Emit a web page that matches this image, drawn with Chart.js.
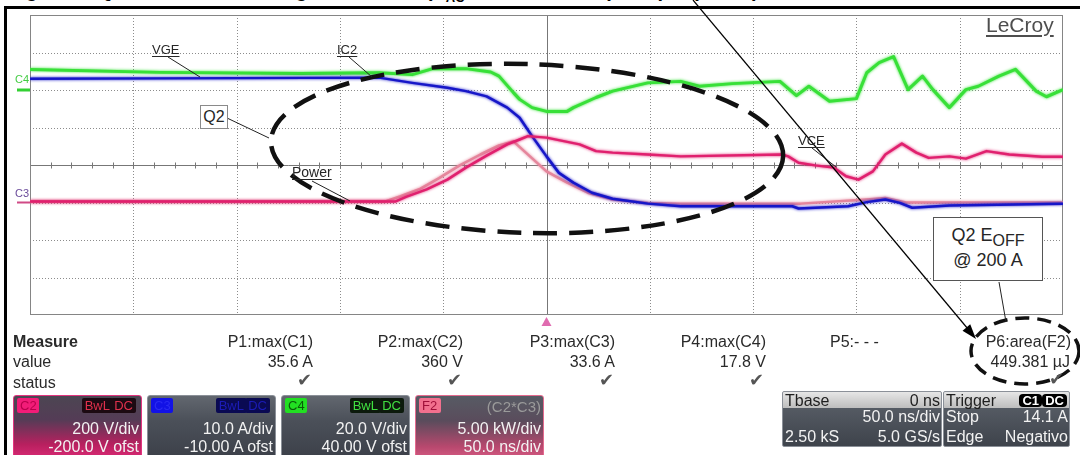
<!DOCTYPE html>
<html>
<head>
<meta charset="utf-8">
<script src="https://cdn.jsdelivr.net/npm/chart.js@4.4.0/dist/chart.umd.min.js"></script>
<style>
  body { margin:0; background:#fff; font-family:"Liberation Sans", Arial, Helvetica, sans-serif; }
  #wrap { position:relative; width:1080px; height:455px; overflow:hidden; background:#fff; }
  #scope { position:absolute; left:0; top:0; z-index:1; }
  .ov { position:absolute; z-index:2; line-height:1; white-space:nowrap; color:#262626; }
  .lbl { font-size:13px; text-decoration:underline; text-underline-offset:2px; }
  .m { font-size:16px; color:#2a2a2a; }
  .ck { font-size:18px; color:#555; }
  .frame-l { position:absolute; left:4px; top:6px; width:3px; height:460px; background:#000; z-index:3; }
  .frame-t { position:absolute; left:4px; top:6px; width:1080px; height:3px; background:#000; z-index:3; }
  .title { position:absolute; left:8px; top:-20px; height:20px; font-size:20px; font-weight:bold; line-height:20px; white-space:nowrap; color:#000; }
  .title .sub { position:relative; top:5px; font-size:13px; }

  /* channel descriptor boxes */
  .chb { position:absolute; top:395px; width:127px; height:62px; border:1px solid #8b9098; border-radius:3px;
         color:#f2f2f2; z-index:2; overflow:hidden; font-size:16px; line-height:1; }
  .tag { position:absolute; top:2px; height:15px; line-height:15px; font-size:13px; padding:0 3px; border-radius:2px; }
  .r2, .r3 { position:absolute; right:2px; white-space:nowrap; }
  .r2 { top:25px; } .r3 { top:43px; }
  .tb { position:absolute; top:391px; height:54px; border:1px solid #8b9098; border-radius:2px; z-index:2;
        overflow:hidden; font-size:16px; line-height:1; color:#f2f2f2;
        background:linear-gradient(#5e646d, #3e434b); }
  .tb .hd { position:absolute; left:0; right:0; top:0; height:16px; background:linear-gradient(#e6e6e6, #bdbdbd); color:#1e1e1e; }
  .tb span { position:absolute; white-space:nowrap; }
  .tb span.bk { top:2px; height:13px; line-height:13px; font-size:13px; font-weight:bold; padding:0 3px; background:#000; color:#fff; border-radius:4px; }
</style>
</head>
<body>
<div id="wrap">
  <canvas id="scope" width="1080" height="455"></canvas>

  <div class="title">Figure 9. Q2 Turn-Off Switching Waveforms (V<span class="sub">AC</span> = 240 V, 200 A peak per phase)</div>
  <div class="frame-t"></div>
  <div class="frame-l"></div>

  <!-- channel markers on the left edge -->
  <div class="ov" style="left:15px;top:73.5px;font-size:11px;color:#44cc44">C4</div>
  <div class="ov" style="left:15px;top:187.5px;font-size:11px;color:#6a4a9a">C3</div>

  <!-- trace labels -->
  <div class="ov lbl" style="left:152px;top:42.5px">VGE</div>
  <div class="ov lbl" style="left:337px;top:42.5px">IC2</div>
  <div class="ov lbl" style="left:292px;top:165px;font-size:14px">Power</div>
  <div class="ov lbl" style="left:798px;top:134px">VCE</div>
  <div class="ov" style="left:200px;top:105px;width:26px;height:22px;border:1px solid #8a8a8a;background:#fff;
       font-size:16px;line-height:22px;text-align:center">Q2</div>
  <div class="ov" style="left:986px;top:14px;font-size:21px;color:#4e4e4e;text-decoration:underline;text-underline-offset:3px">LeCroy</div>
  <div class="ov" style="left:933px;top:217px;width:108px;height:62px;border:1.5px solid #555;background:#fff;font-size:18px">
    <div style="position:absolute;left:0;right:0;top:8px;text-align:center">Q2 E<span style="position:relative;top:5px;font-size:16px">OFF</span></div>
    <div style="position:absolute;left:0;right:0;top:33px;text-align:center">@ 200 A</div>
  </div>

  <!-- measure table -->
  <div class="ov m" style="left:13px;top:333.5px;font-weight:bold">Measure</div>
  <div class="ov m" style="left:13px;top:354px">value</div>
  <div class="ov m" style="left:13px;top:374.5px">status</div>

  <div class="ov m" style="right:767px;top:333.5px">P1:max(C1)</div>
  <div class="ov m" style="right:767px;top:354px">35.6 A</div>
  <div class="ov ck" style="right:768px;top:371px">&#10004;</div>

  <div class="ov m" style="right:617px;top:333.5px">P2:max(C2)</div>
  <div class="ov m" style="right:617px;top:354px">360 V</div>
  <div class="ov ck" style="right:618px;top:371px">&#10004;</div>

  <div class="ov m" style="right:465px;top:333.5px">P3:max(C3)</div>
  <div class="ov m" style="right:465px;top:354px">33.6 A</div>
  <div class="ov ck" style="right:466px;top:371px">&#10004;</div>

  <div class="ov m" style="right:314px;top:333.5px">P4:max(C4)</div>
  <div class="ov m" style="right:314px;top:354px">17.8 V</div>
  <div class="ov ck" style="right:316px;top:371px">&#10004;</div>

  <div class="ov m" style="left:830px;top:333.5px">P5:- - -</div>

  <div class="ov m" style="right:9px;top:333.5px">P6:area(F2)</div>
  <div class="ov m" style="right:10px;top:354px">449.381 µJ</div>
  <div class="ov ck" style="right:16px;top:370px">&#10004;</div>

  <!-- channel boxes -->
  <div class="chb" style="left:13px;border-color:#e2357f;background:linear-gradient(#4c4652 0%, #543c56 38%, #b8205f 78%, #d82a74 100%)">
    <span class="tag" style="left:3px;width:16px;background:#f21c78;color:#b8004c">C2</span>
    <span class="tag" style="right:28px;background:#1c0a12;color:#e0304c">BwL</span>
    <span class="tag" style="right:5px;background:#1c0a12;color:#e0304c">DC</span>
    <div class="r2">200 V/div</div>
    <div class="r3">-200.0 V ofst</div>
  </div>
  <div class="chb" style="left:147px;background:linear-gradient(#62676f 0%, #4b5059 40%, #3c4049 100%)">
    <span class="tag" style="left:3px;width:16px;background:#1212e6;color:#2a2af0">C3</span>
    <span class="tag" style="right:28px;background:#0a0a52;color:#1c1cb8">BwL</span>
    <span class="tag" style="right:5px;background:#0a0a52;color:#1c1cb8">DC</span>
    <div class="r2">10.0 A/div</div>
    <div class="r3">-10.00 A ofst</div>
  </div>
  <div class="chb" style="left:281px;background:linear-gradient(#62676f 0%, #4b5059 40%, #3c4049 100%)">
    <span class="tag" style="left:3px;width:16px;background:#22e022;color:#0a5a0a">C4</span>
    <span class="tag" style="right:28px;background:#0c1a0c;color:#40e040">BwL</span>
    <span class="tag" style="right:5px;background:#0c1a0c;color:#40e040">DC</span>
    <div class="r2">20.0 V/div</div>
    <div class="r3">40.00 V ofst</div>
  </div>
  <div class="chb" style="left:415px;border-color:#e46a8e;background:linear-gradient(#575b64 0%, #5a4c5c 40%, #b8486e 82%, #d45a82 100%)">
    <span class="tag" style="left:3px;width:16px;background:#f2708e;color:#a0103a">F2</span>
    <span style="position:absolute;right:2px;top:3px;font-size:15px;color:#9a9a9a">(C2*C3)</span>
    <div class="r2">5.00 kW/div</div>
    <div class="r3">50.0 ns/div</div>
  </div>

  <div class="tb" style="left:782px;width:158px">
    <div class="hd"></div>
    <span style="left:2px;top:1px;color:#1e1e1e">Tbase</span>
    <span style="right:1px;top:1px;color:#1e1e1e">0 ns</span>
    <span style="right:1px;top:17px">50.0 ns/div</span>
    <span style="left:2px;top:37px">2.50 kS</span>
    <span style="right:1px;top:37px">5.0 GS/s</span>
  </div>
  <div class="tb" style="left:943px;width:125px">
    <div class="hd"></div>
    <span style="left:2px;top:1px;color:#1e1e1e">Trigger</span>
    <span class="bk" style="right:27px">C1</span>
    <span class="bk" style="right:2px">DC</span>
    <span style="left:2px;top:17px">Stop</span>
    <span style="right:1px;top:17px">14.1 A</span>
    <span style="left:2px;top:37px">Edge</span>
    <span style="right:1px;top:37px">Negativo</span>
  </div>
</div>

<script>
/* ---- scope settings: 50 ns/div, 10 x 8 divisions, values in divisions ---- */
const xTicks = [-250, -200, -150, -100, -50, 0, 50, 100, 150, 200, 250];   // ns
const yTicks = [-4, -3, -2, -1, 0, 1, 2, 3, 4];                          // div
const minorNs = 10;                                                       // centre-axis tick spacing

/* ---- traces (time in ns, level in divisions) ---- */
const vgeT = [-250,-187,-119,-81,-65,-55,-39,-27,-23,-16,-13,-7,0,10,13,24,32,49,65,74,90,113,121,127,137,150,155,161,168,175,182,187,195,203,209,219,227,237,242,250];
const vgeV = [2.55,2.47,2.44,2.46,2.41,2.57,2.57,2.48,2.37,1.93,1.75,1.53,1.43,1.43,1.53,1.80,1.97,2.19,2.23,2.10,2.17,2.23,1.85,2.10,1.70,1.77,2.46,2.73,2.89,2.01,2.37,2.01,1.53,2.01,2.10,2.37,2.55,1.97,1.82,2.01];

const ic2T = [-250,-187,-81,-65,-48,-39,-29,-19,-13,-7,0,6,13,22,32,49,65,119,122,146,155,164,171,177,195,250];
const ic2V = [2.30,2.31,2.33,2.19,2.06,1.97,1.83,1.53,1.26,0.77,0.23,-0.21,-0.47,-0.74,-0.90,-1.03,-1.10,-1.10,-1.16,-1.10,-0.99,-0.92,-1.01,-1.14,-1.08,-1.03];

const vceT = [-250,-73,-68,-58,-48,-39,-29,-19,-13,-9,0,16,24,32,49,65,114,117,122,130,139,145,151,158,164,172,179,185,195,203,213,224,240,250];
const vceV = [-0.97,-0.97,-0.85,-0.65,-0.39,-0.07,0.25,0.55,0.68,0.77,0.73,0.55,0.37,0.33,0.28,0.23,0.28,0.23,0.06,-0.01,-0.07,-0.30,-0.39,-0.17,0.28,0.57,0.33,0.19,0.23,0.17,0.37,0.28,0.22,0.22];

const powT = [-250,-78,-71,-61,-52,-42,-32,-23,-16,-10,0,10,20,32,49,65,123,155,164,174,250];
const powV = [-0.97,-0.97,-0.84,-0.63,-0.35,-0.01,0.28,0.52,0.63,0.33,-0.17,-0.47,-0.74,-0.92,-1.01,-1.03,-1.03,-0.92,-0.88,-1.00,-1.00];

function pts(t, v) { return t.map((x, i) => ({ x, y: v[i] })); }

function seg(ctx, x1, y1, x2, y2) { ctx.beginPath(); ctx.moveTo(x1, y1); ctx.lineTo(x2, y2); ctx.stroke(); }

/* graticule: dotted grid, solid centre cross with ticks, grey frame */
const graticule = {
  id: 'graticule',
  beforeDatasetsDraw(chart) {
    const { ctx, chartArea: a, scales: { x, y } } = chart;
    ctx.save();
    ctx.lineWidth = 1;
    ctx.strokeStyle = '#8c8c8c';
    ctx.setLineDash([1, 2]);
    xTicks.slice(1, -1).filter(t => t !== 0).forEach(t => {
      const px = Math.round(x.getPixelForValue(t)) + 0.5;
      seg(ctx, px, a.top, px, a.bottom);
    });
    yTicks.slice(1, -1).filter(v => v !== 0).forEach(v => {
      const py = Math.round(y.getPixelForValue(v)) + 0.5;
      seg(ctx, a.left, py, a.right, py);
    });
    ctx.setLineDash([]);
    ctx.strokeStyle = '#777';
    const cx = Math.round(x.getPixelForValue(0)) + 0.5;
    const cy = Math.round(y.getPixelForValue(0)) + 0.5;
    seg(ctx, a.left, cy, a.right, cy);
    seg(ctx, cx, a.top, cx, a.bottom);
    for (let t = xTicks[0] + minorNs; t < xTicks[xTicks.length - 1]; t += minorNs) {
      const px = Math.round(x.getPixelForValue(t)) + 0.5;
      seg(ctx, px, cy - 3, px, cy + 3);
    }
    ctx.strokeStyle = '#858585';
    ctx.strokeRect(a.left + 0.5, a.top + 0.5, a.right - a.left - 1, a.bottom - a.top - 1);
    ctx.restore();
  }
};

/* soft halo round each trace, like the phosphor blur on the scope screen */
const halo = {
  id: 'halo',
  beforeDatasetDraw(chart, args) {
    const ctx = chart.ctx;
    ctx.save();
    ctx.shadowColor = args.meta.dataset.options.borderColor;
    ctx.shadowBlur = 3;
  },
  afterDatasetDraw(chart) { chart.ctx.restore(); }
};

/* hand annotations: dashed rings, leader lines, arrow, channel / trigger markers */
const notes = {
  id: 'notes',
  afterDatasetsDraw(chart) {
    const { ctx, chartArea: a, scales: { x, y } } = chart;
    ctx.save();

    // big dashed ring around the turn-off transition
    const ex = x.getPixelForValue(-9.4), ey = y.getPixelForValue(0.44);
    const erx = x.getPixelForValue(-9.4 + 124) - ex, ery = ey - y.getPixelForValue(0.44 + 2.25);
    ctx.strokeStyle = '#111';
    ctx.lineWidth = 4.5;
    ctx.setLineDash([24, 12]);
    ctx.beginPath(); ctx.ellipse(ex, ey, erx, ery, 0.03, 0, Math.PI * 2); ctx.stroke();

    // small dashed ring around the P6 reading
    ctx.lineWidth = 3.5;
    ctx.setLineDash([14, 8]);
    ctx.beginPath(); ctx.ellipse(1025, 351, 54, 33, 0, 0, Math.PI * 2); ctx.stroke();
    ctx.setLineDash([]);

    // leader lines
    ctx.strokeStyle = '#222';
    ctx.lineWidth = 1;
    [[168, 57, 200, 77], [349, 57, 372, 77], [227, 118, 269, 138],
     [312, 181, 350, 201], [812, 148, 836, 167], [999, 282, 1006, 322]]
      .forEach(l => seg(ctx, l[0], l[1], l[2], l[3]));

    // long arrow into P6
    const x0 = 693, y0 = 0, x1 = 976, y1 = 339;
    ctx.strokeStyle = '#000';
    ctx.lineWidth = 1.2;
    seg(ctx, x0, y0, x1 - 8, y1 - 10);
    const ang = Math.atan2(y1 - y0, x1 - x0);
    ctx.fillStyle = '#000';
    ctx.beginPath();
    ctx.moveTo(x1, y1);
    ctx.lineTo(x1 - 15 * Math.cos(ang) + 5 * Math.sin(ang), y1 - 15 * Math.sin(ang) - 5 * Math.cos(ang));
    ctx.lineTo(x1 - 15 * Math.cos(ang) - 5 * Math.sin(ang), y1 - 15 * Math.sin(ang) + 5 * Math.cos(ang));
    ctx.closePath(); ctx.fill();

    // ground markers on the left edge
    ctx.fillStyle = '#33d033';
    ctx.fillRect(17, y.getPixelForValue(2) - 1.5, a.left - 17, 3);
    ctx.fillStyle = '#d04a86';
    ctx.fillRect(17, y.getPixelForValue(-1) - 1, a.left - 17, 2);

    // trigger position marker
    const tx = x.getPixelForValue(0);
    ctx.fillStyle = '#e06cb0';
    ctx.beginPath();
    ctx.moveTo(tx, a.bottom + 2); ctx.lineTo(tx - 5, a.bottom + 11); ctx.lineTo(tx + 5, a.bottom + 11);
    ctx.closePath(); ctx.fill();
    ctx.restore();
  }
};

new Chart(document.getElementById('scope'), {
  type: 'line',
  data: {
    datasets: [
      { label: 'VCE',   data: pts(vceT, vceV), borderColor: '#e0206e', borderWidth: 2.5, order: 1 },
      { label: 'IC2',   data: pts(ic2T, ic2V), borderColor: '#1616c8', borderWidth: 2.5, order: 2 },
      { label: 'Power', data: pts(powT, powV), borderColor: '#e5869c', borderWidth: 2.5, order: 3 },
      { label: 'VGE',   data: pts(vgeT, vgeV), borderColor: '#38e038', borderWidth: 3,   order: 4 }
    ]
  },
  options: {
    responsive: false,
    animation: false,
    devicePixelRatio: 1,
    layout: { padding: { left: 30, right: 17, top: 15, bottom: 140 } },
    elements: { point: { radius: 0 }, line: { tension: 0, borderJoinStyle: 'round' } },
    plugins: { legend: { display: false }, tooltip: { enabled: false } },
    scales: {
      x: { type: 'linear', min: xTicks[0], max: xTicks[xTicks.length - 1], display: false },
      y: { type: 'linear', min: yTicks[0], max: yTicks[yTicks.length - 1], display: false }
    }
  },
  plugins: [graticule, halo, notes]
});
</script>
</body>
</html>
